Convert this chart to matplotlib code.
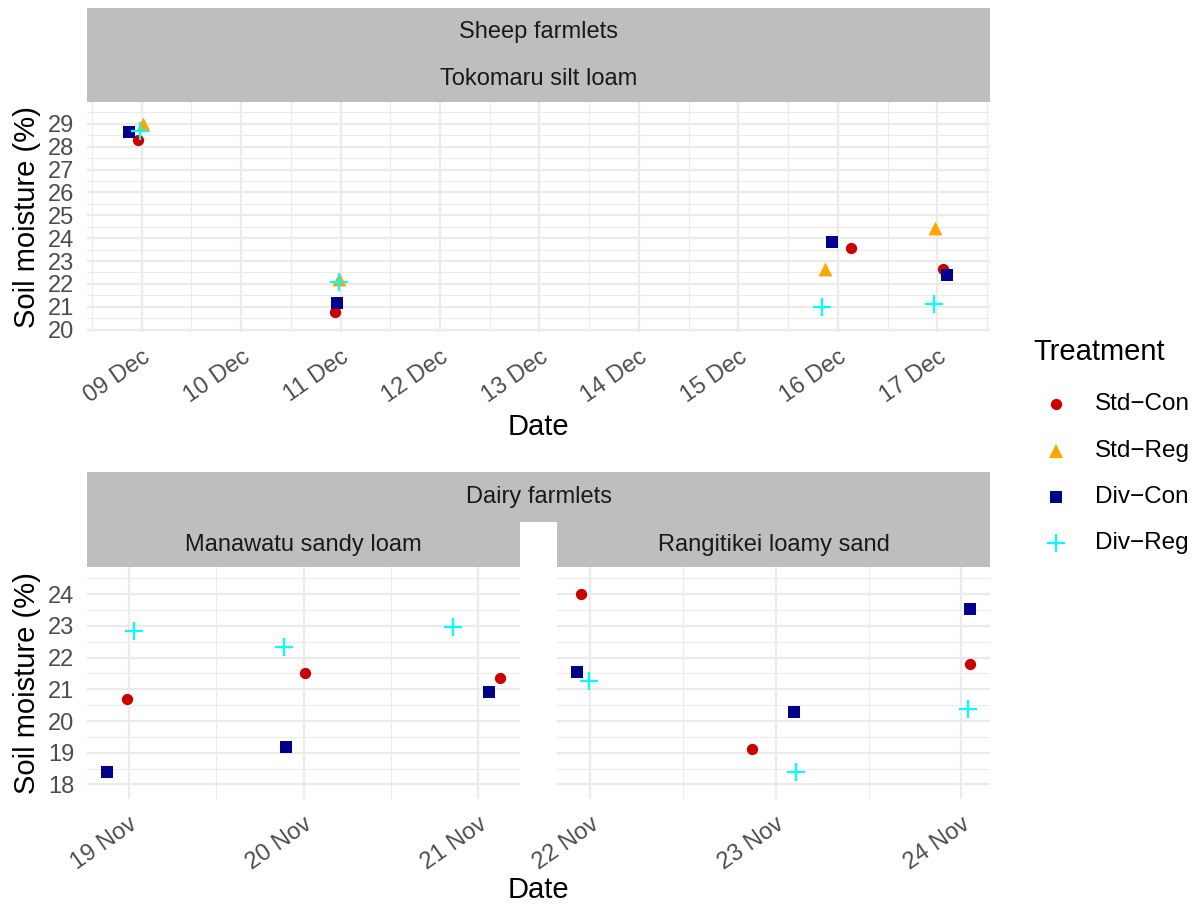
import matplotlib
matplotlib.use("Agg")
import matplotlib.pyplot as plt
import matplotlib.dates as mdates
from matplotlib.ticker import MultipleLocator
from datetime import datetime

plt.rcParams['font.family'] = ['Liberation Sans', 'DejaVu Sans']

treatments = ["Std\u2212Con", "Std\u2212Reg", "Div\u2212Con", "Div\u2212Reg"]
colors = ["#CD0000", "#FFA500", "#00008B", "#00FFFF"]
markers = ["o", "^", "s", "+"]
sizes = [66, 100, 66, 160]

# Sheep farmlets, Tokomaru silt loam (day of December)
sheep_days = {
    "Std\u2212Con": [8.96, 10.94, 16.13, 17.06],
    "Std\u2212Reg": [9.01, 10.98, 15.87, 16.98],
    "Div\u2212Con": [8.87, 10.96, 15.94, 17.10],
    "Div\u2212Reg": [8.98, 10.98, 15.84, 16.97],
}
sheep_vals = {
    "Std\u2212Con": [28.31, 20.79, 23.57, 22.67],
    "Std\u2212Reg": [29.0, 22.22, 22.65, 24.43],
    "Div\u2212Con": [28.65, 21.18, 23.85, 22.41],
    "Div\u2212Reg": [28.7, 22.08, 20.99, 21.11],
}

# Dairy farmlets (day of November)
manawatu_days = {
    "Std\u2212Con": [18.99, 20.01, 21.125],
    "Div\u2212Con": [18.876, 19.90, 21.06],
    "Div\u2212Reg": [19.03, 19.89, 20.855],
}
manawatu_vals = {
    "Std\u2212Con": [20.68, 21.51, 21.35],
    "Div\u2212Con": [18.38, 19.17, 20.91],
    "Div\u2212Reg": [22.85, 22.33, 22.98],
}
rangitikei_days = {
    "Std\u2212Con": [21.95, 22.87, 24.045],
    "Div\u2212Con": [21.93, 23.10, 24.045],
    "Div\u2212Reg": [21.99, 23.11, 24.035],
}
rangitikei_vals = {
    "Std\u2212Con": [24.01, 19.12, 21.79],
    "Div\u2212Con": [21.56, 20.27, 23.53],
    "Div\u2212Reg": [21.27, 18.38, 20.38],
}

W, H = 1197, 907
fig = plt.figure(figsize=(W / 100, H / 100), dpi=100)


def px_axes(x0, y0, x1, y1, **kw):
    return fig.add_axes([x0 / W, 1 - y1 / H, (x1 - x0) / W, (y1 - y0) / H], **kw)


def strip(x0, y0, x1, y1, label):
    a = px_axes(x0, y0, x1, y1)
    a.set_facecolor("#BEBEBE")
    a.set_xticks([])
    a.set_yticks([])
    for s in a.spines.values():
        s.set_visible(False)
    a.text(0.5, 0.5, label, ha="center", va="center", fontsize=17, color="#1A1A1A",
           transform=a.transAxes)


def dec(d):
    return mdates.date2num(datetime(2019, 12, 1)) + d - 1


def nov(d):
    return mdates.date2num(datetime(2019, 11, 1)) + d - 1


def style(ax, ymaj):
    for s in ax.spines.values():
        s.set_visible(False)
    ax.set_axisbelow(True)
    ax.yaxis.set_major_locator(MultipleLocator(ymaj))
    ax.yaxis.set_minor_locator(MultipleLocator(0.5))
    ax.xaxis.set_major_locator(mdates.DayLocator())
    ax.xaxis.set_minor_locator(mdates.HourLocator(byhour=[12]))
    ax.xaxis.set_major_formatter(mdates.DateFormatter("%d %b"))
    ax.grid(which="major", color="#EBEBEB", lw=1.6)
    ax.grid(which="minor", color="#EBEBEB", lw=0.8)
    ax.tick_params(which="both", length=0, labelsize=17, labelcolor="#4D4D4D")
    ax.tick_params(axis="y", pad=9)
    ax.tick_params(axis="x", pad=10)
    for t in ax.get_xticklabels():
        t.set_rotation(35)
        t.set_ha("right")
        t.set_va("top")
        t.set_rotation_mode("anchor")


def draw(ax, days, vals, conv):
    for name, c, m, s in zip(treatments, colors, markers, sizes):
        if name not in days:
            continue
        xs = [conv(d) for d in days[name]]
        if m == "+":
            ax.scatter(xs, vals[name], marker=m, s=s, color=c, linewidths=1.6, zorder=3)
        else:
            ax.scatter(xs, vals[name], marker=m, s=s, color=c, linewidths=0, zorder=3)


# top panel
strip(87, 8, 990, 56, "Sheep farmlets")
strip(87, 56, 990, 102, "Tokomaru silt loam")
ax1 = px_axes(87, 102, 990, 332)
draw(ax1, sheep_days, sheep_vals, dec)
ax1.set_xlim(dec(8.45), dec(17.53))
ax1.set_ylim(19.9, 29.95)
style(ax1, 1)
fig.text(27 / W, 1 - 217 / H, "Soil moisture (%)", rotation=90, ha="center", va="center",
         fontsize=21)
fig.text(538 / W, 1 - 427 / H, "Date", ha="center", va="center", fontsize=21)

# bottom panels
strip(87, 472, 990, 522, "Dairy farmlets")
strip(87, 522, 520, 567, "Manawatu sandy loam")
strip(557, 522, 990, 567, "Rangitikei loamy sand")
ax2 = px_axes(87, 567, 520, 799)
ax3 = px_axes(557, 567, 990, 799)
draw(ax2, manawatu_days, manawatu_vals, nov)
draw(ax3, rangitikei_days, rangitikei_vals, nov)
ax2.set_xlim(nov(18.76), nov(21.24))
ax3.set_xlim(nov(21.82), nov(24.155))
for a in (ax2, ax3):
    a.set_ylim(17.54, 24.86)
    style(a, 1)
ax3.tick_params(axis="y", labelleft=False)
fig.text(27 / W, 1 - 683 / H, "Soil moisture (%)", rotation=90, ha="center", va="center",
         fontsize=21)
fig.text(538 / W, 1 - 890 / H, "Date", ha="center", va="center", fontsize=21)

# legend
fig.text(1033 / W, 1 - 352 / H, "Treatment", ha="left", va="center", fontsize=21)
leg_y = [404, 451, 497, 543]
for name, c, m, s, yy in zip(treatments, colors, markers, sizes, leg_y):
    lw = 1.6 if m == "+" else 0
    fig.add_artist(plt.Line2D([1056 / W], [1 - yy / H], marker=m, color=c,
                              markersize=s ** 0.5, markeredgewidth=lw,
                              linestyle="none", transform=fig.transFigure))
    fig.text(1095 / W, 1 - yy / H, name, ha="left", va="center", fontsize=17.5)

fig.savefig("out.png", dpi=100)
